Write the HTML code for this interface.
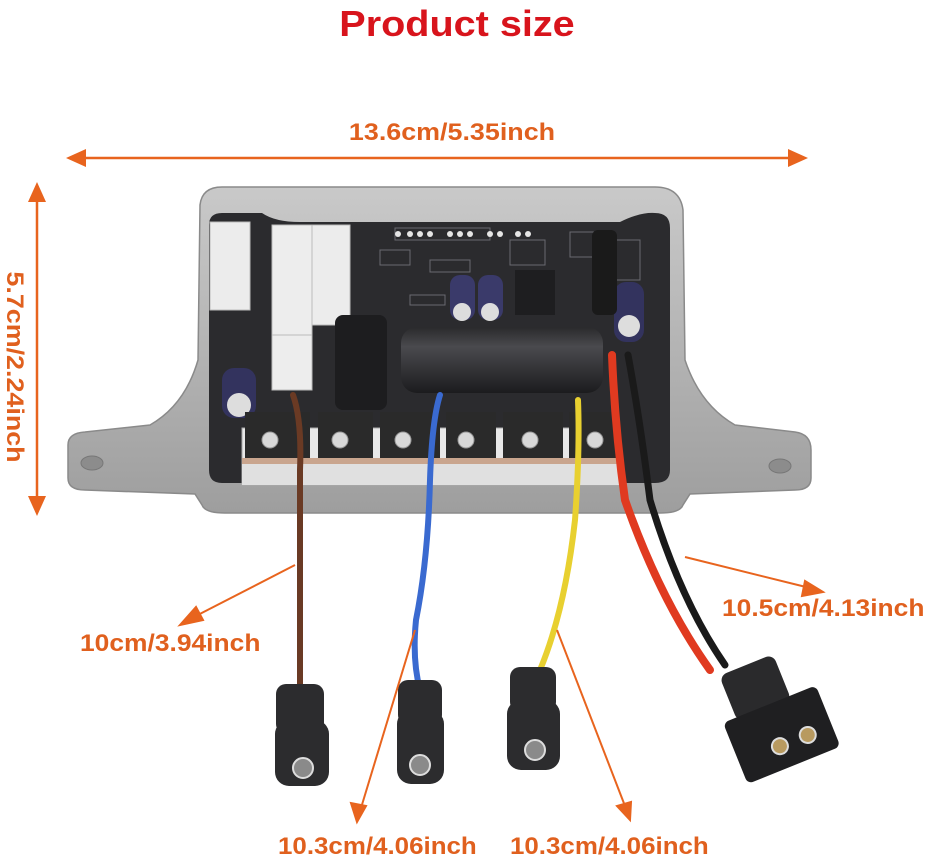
<!DOCTYPE html>
<html><head><meta charset="utf-8"><style>
html,body{margin:0;padding:0;background:#fff;}
svg{display:block;}
text{font-family:"Liberation Sans",sans-serif;font-weight:bold;}
</style></head><body>
<svg width="936" height="863" viewBox="0 0 936 863" xmlns="http://www.w3.org/2000/svg">
<defs>
<linearGradient id="al" x1="0" y1="0" x2="0" y2="1"><stop offset="0" stop-color="#c9c9c9"/><stop offset="1" stop-color="#9e9e9e"/></linearGradient>
<linearGradient id="cap" x1="0" y1="0" x2="0" y2="1"><stop offset="0" stop-color="#2a2a2c"/><stop offset="0.3" stop-color="#4a4a4e"/><stop offset="1" stop-color="#1c1c1e"/></linearGradient>
</defs>
<!-- title -->
<text x="457" y="36" font-size="36" fill="#d8141c" text-anchor="middle" transform="translate(457 0) scale(1.1 1) translate(-457 0)">Product size</text>
<!-- horizontal dim -->
<text x="452" y="140" font-size="24" fill="#e0601e" text-anchor="middle" transform="translate(452 0) scale(1.12 1) translate(-452 0)">13.6cm/5.35inch</text>
<line x1="80" y1="158" x2="795" y2="158" stroke="#e8641e" stroke-width="2.5"/>
<polygon points="66,158 86,149 86,167" fill="#e8641e"/>
<polygon points="808,158 788,149 788,167" fill="#e8641e"/>
<!-- vertical dim -->
<line x1="37" y1="195" x2="37" y2="503" stroke="#e8641e" stroke-width="2.5"/>
<polygon points="37,182 28,202 46,202" fill="#e8641e"/>
<polygon points="37,516 28,496 46,496" fill="#e8641e"/>
<text x="0" y="0" font-size="24" fill="#e0601e" text-anchor="middle" transform="translate(7 367) rotate(90) scale(1.12 1)">5.7cm/2.24inch</text>

<!-- housing -->
<path d="M68,445 Q68,433 85,432 L150,425 Q185,405 198,360 L200,205 Q202,187 222,187 L655,187 Q680,187 683,210 L685,360 Q700,405 735,425 L795,432 Q811,434 811,450 L811,478 Q811,490 795,490 L690,494 L683,505 Q680,513 660,513 L225,513 Q205,513 202,505 L195,494 L85,490 Q68,490 68,478 Z" fill="url(#al)" stroke="#8a8a8a" stroke-width="1.5"/>
<ellipse cx="92" cy="463" rx="11" ry="7" fill="#8c8c8c" stroke="#777"/>
<ellipse cx="780" cy="466" rx="11" ry="7" fill="#8c8c8c" stroke="#777"/>
<!-- pcb -->
<path d="M209,225 Q209,213 222,213 L262,213 Q275,222 300,222 L620,222 Q640,212 655,213 Q670,213 670,228 L670,470 Q670,483 655,483 L222,483 Q209,483 209,470 Z" fill="#2b2b2e"/>
<g fill="none" stroke="#6a6a70" stroke-width="1">
<rect x="395" y="228" width="95" height="12"/><rect x="430" y="260" width="40" height="12"/><rect x="380" y="250" width="30" height="15"/>
<rect x="510" y="240" width="35" height="25"/><rect x="570" y="232" width="25" height="25"/><rect x="610" y="240" width="30" height="40"/>
<rect x="410" y="295" width="35" height="10"/>
</g>
<g fill="#e5e5e5"><circle cx="398" cy="234" r="3"/><circle cx="410" cy="234" r="3"/><circle cx="420" cy="234" r="3"/><circle cx="430" cy="234" r="3"/><circle cx="450" cy="234" r="3"/><circle cx="460" cy="234" r="3"/><circle cx="470" cy="234" r="3"/><circle cx="490" cy="234" r="3"/><circle cx="500" cy="234" r="3"/><circle cx="518" cy="234" r="3"/><circle cx="528" cy="234" r="3"/></g>
<rect x="210" y="222" width="40" height="88" fill="#ececec" stroke="#bbb"/>
<rect x="272" y="225" width="40" height="165" fill="#ededed" stroke="#bbb"/>
<rect x="312" y="225" width="38" height="100" fill="#ececec" stroke="#bbb"/>
<line x1="272" y1="335" x2="312" y2="335" stroke="#bbb"/>
<rect x="450" y="275" width="25" height="45" rx="10" fill="#3a3a6a"/><circle cx="462" cy="312" r="9" fill="#ddd"/>
<rect x="478" y="275" width="25" height="45" rx="10" fill="#3a3a6a"/><circle cx="490" cy="312" r="9" fill="#ddd"/>
<rect x="515" y="270" width="40" height="45" fill="#1e1e20"/>
<rect x="614" y="282" width="30" height="60" rx="12" fill="#33335e"/><circle cx="629" cy="326" r="11" fill="#ddd"/>
<rect x="222" y="368" width="34" height="50" rx="12" fill="#33335e"/><circle cx="239" cy="405" r="12" fill="#ddd"/>
<rect x="335" y="315" width="52" height="95" rx="8" fill="#1d1d1f"/>
<rect x="401" y="327" width="202" height="66" rx="16" fill="url(#cap)"/>
<rect x="592" y="230" width="25" height="85" rx="6" fill="#1a1a1a"/>
<rect x="242" y="428" width="377" height="57" fill="#e8e8e8" stroke="#aaa"/>
<rect x="242" y="458" width="377" height="6" fill="#c9a58e"/>
<rect x="242" y="464" width="377" height="21" fill="#e0e0e0"/>
<g fill="#2a2a2a"><rect x="245" y="412" width="65" height="46"/><rect x="318" y="412" width="55" height="46"/><rect x="380" y="412" width="60" height="46"/><rect x="446" y="412" width="50" height="46"/><rect x="503" y="412" width="60" height="46"/><rect x="569" y="412" width="48" height="46"/></g>
<g fill="#d8d8d8" stroke="#999"><circle cx="270" cy="440" r="8"/><circle cx="340" cy="440" r="8"/><circle cx="403" cy="440" r="8"/><circle cx="466" cy="440" r="8"/><circle cx="530" cy="440" r="8"/><circle cx="595" cy="440" r="8"/></g>

<!-- wires -->
<g fill="none" stroke-linecap="round">
<path d="M293,395 Q302,420 300,470 L300,690" stroke="#6a3a24" stroke-width="6"/>
<path d="M440,395 Q432,420 430,480 Q428,560 416,620 Q412,660 420,690" stroke="#3a6ad0" stroke-width="6"/>
<path d="M578,400 Q580,450 575,520 Q565,610 540,670" stroke="#e8d030" stroke-width="6"/>
<path d="M628,355 Q640,420 650,500 Q680,600 725,665" stroke="#1a1a1a" stroke-width="7"/>
<path d="M612,355 Q615,430 625,500 Q660,600 710,670" stroke="#e03a20" stroke-width="8"/>
</g>
<g fill="#2c2c2e">
<rect x="276" y="684" width="48" height="50" rx="10"/><rect x="275" y="720" width="54" height="66" rx="14"/>
<rect x="398" y="680" width="44" height="45" rx="10"/><rect x="397" y="710" width="47" height="74" rx="14"/>
<rect x="510" y="667" width="46" height="45" rx="10"/><rect x="507" y="700" width="53" height="70" rx="14"/>
</g>
<g fill="#8a8a8a" stroke="#ddd" stroke-width="2"><circle cx="303" cy="768" r="10"/><circle cx="420" cy="765" r="10"/><circle cx="535" cy="750" r="10"/></g>
<!-- XT plug -->
<g transform="translate(775 718) rotate(-22)">
<rect x="-36" y="-60" width="58" height="50" rx="8" fill="#2a2a2c"/>
<rect x="-50" y="-15" width="100" height="66" rx="6" fill="#1f1f21"/>
<circle cx="-6" cy="28" r="8" fill="#b89a60" stroke="#ddd" stroke-width="2"/>
<circle cx="24" cy="28" r="8" fill="#b89a60" stroke="#ddd" stroke-width="2"/>
</g>

<!-- leader arrows -->
<g stroke="#e8641e" stroke-width="2" fill="#e8641e">
<line x1="295" y1="565" x2="190" y2="619"/><polygon points="180,625 196,607 203,620" />
<line x1="415" y1="630" x2="361" y2="808"/><polygon points="357,822 351,803 366,806"/>
<line x1="557" y1="630" x2="625" y2="806"/><polygon points="630,820 617,806 631,802"/>
<line x1="685" y1="557" x2="810" y2="588"/><polygon points="823,592 805,581 802,596"/>
</g>
<g fill="#e0601e" font-size="24">
<text x="80" y="651" transform="translate(80 0) scale(1.1 1) translate(-80 0)">10cm/3.94inch</text>
<text x="278" y="854" transform="translate(278 0) scale(1.08 1) translate(-278 0)">10.3cm/4.06inch</text>
<text x="510" y="854" transform="translate(510 0) scale(1.08 1) translate(-510 0)">10.3cm/4.06inch</text>
<text x="722" y="616" transform="translate(722 0) scale(1.1 1) translate(-722 0)">10.5cm/4.13inch</text>
</g>
</svg>
</body></html>
